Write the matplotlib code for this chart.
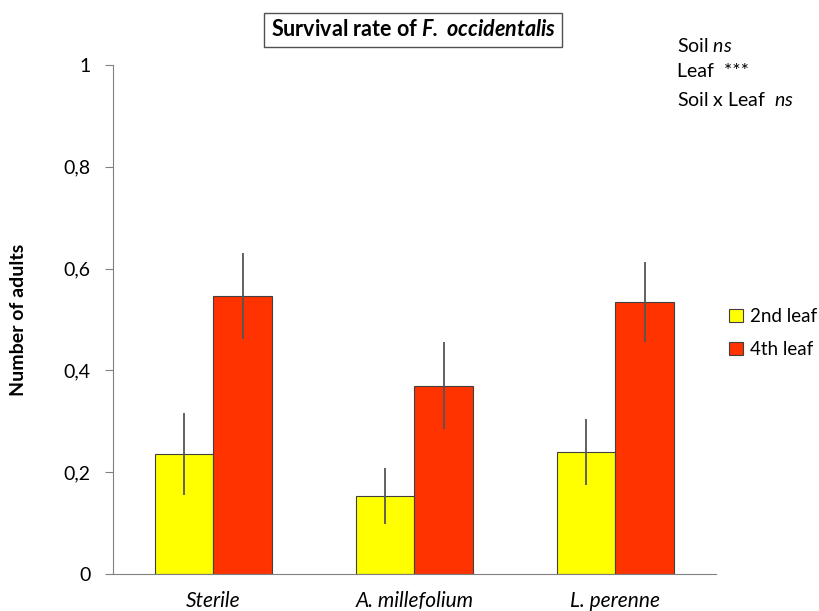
import matplotlib.pyplot as plt
import numpy as np

plt.rcParams['font.family'] = ['Lato', 'DejaVu Sans']
plt.rcParams['mathtext.fontset'] = 'custom'
plt.rcParams['mathtext.rm'] = 'Lato'
plt.rcParams['mathtext.it'] = 'Lato:italic'
plt.rcParams['mathtext.bf'] = 'Lato:bold'
plt.rcParams['mathtext.bfit'] = 'Lato:bold:italic'

# Data
soils = ['Sterile', 'A. millefolium', 'L. perenne']
leaf2 = [0.236, 0.154, 0.240]
leaf2_err = [0.080, 0.055, 0.065]
leaf4 = [0.546, 0.370, 0.534]
leaf4_err = [0.085, 0.086, 0.079]
yticks = [0, 0.2, 0.4, 0.6, 0.8, 1]
ytick_labels = ['0', '0,2', '0,4', '0,6', '0,8', '1']

fig = plt.figure(figsize=(8.2, 6.11), dpi=100)
ax = fig.add_axes([0.1378, 0.0606, 0.7353, 0.833])

x = np.arange(len(soils))
w = 0.29
ekw = dict(ecolor='#555555', elinewidth=1.3, capsize=0)
ax.bar(x - w/2, leaf2, w, yerr=leaf2_err, color='#FFFF00', edgecolor='#404040',
       linewidth=0.8, error_kw=ekw, label='2nd leaf')
ax.bar(x + w/2, leaf4, w, yerr=leaf4_err, color='#FF3300', edgecolor='#404040',
       linewidth=0.8, error_kw=ekw, label='4th leaf')

ax.set_xlim(-0.5, 2.5)
ax.set_ylim(0, 1)
ax.set_yticks(yticks)
ax.set_yticklabels(ytick_labels, fontsize=14)
ax.set_xticks(x)
ax.set_xticklabels(soils, fontsize=15, style='italic')
ax.tick_params(axis='x', length=0, pad=12)
ax.tick_params(axis='y', length=6, color='#808080', pad=10)
for s in ['top', 'right']:
    ax.spines[s].set_visible(False)
for s in ['left', 'bottom']:
    ax.spines[s].set_color('#808080')

ax.set_ylabel('Number of adults', fontsize=14, fontweight='bold')
ax.yaxis.set_label_coords(-0.143, 0.5)

fig.text(0.504, 0.951, r'Survival rate of $\mathbfit{F.}$ $\mathbfit{occidentalis}$',
         fontsize=15.5, fontweight='bold', ha='center', va='center',
         bbox=dict(boxstyle='square,pad=0.3', facecolor='white', edgecolor='#505050', linewidth=1))

fig.text(0.826, 0.924, r'Soil $\it{ns}$', fontsize=14, va='center')
fig.text(0.826, 0.883, 'Leaf  ***', fontsize=14, va='center')
fig.text(0.826, 0.836, r'Soil x Leaf  $\it{ns}$', fontsize=14, va='center')

fig.legend(loc='center left', bbox_to_anchor=(0.889, 0.455), frameon=False, fontsize=13.5,
           handlelength=0.75, handleheight=0.75, handletextpad=0.35, labelspacing=0.85,
           borderaxespad=0, borderpad=0)

plt.savefig('out.png', dpi=100)
